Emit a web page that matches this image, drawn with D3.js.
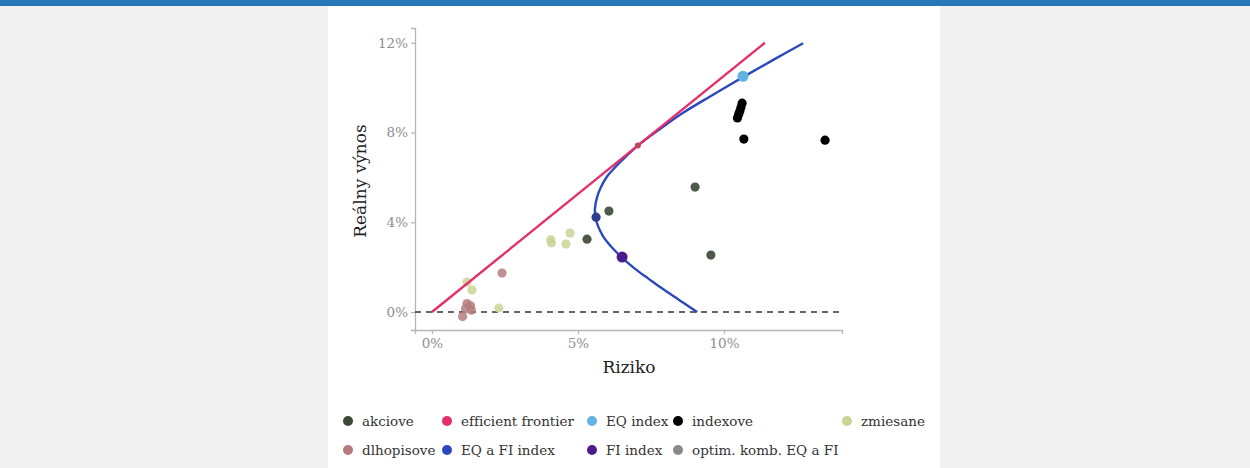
<!DOCTYPE html>
<html><head><meta charset="utf-8">
<script src="https://cdn.jsdelivr.net/npm/d3@7"></script>
<style>
html,body{margin:0;padding:0;background:#f0f0f0;}
svg{display:block;}
text{font-variant-ligatures:none;}
</style></head>
<body>
<svg id="c" width="1250" height="468"></svg>
<script>
// ---- data (risk %, real return %) ----
const akcioveRisk = [9.01, 6.06, 5.31, 9.55];
const akcioveRet  = [5.57, 4.50, 3.25, 2.54];
const zmiesaneRisk = [4.07, 4.09, 4.59, 4.73, 1.37, 1.20, 2.29];
const zmiesaneRet  = [3.22, 3.08, 3.03, 3.52, 0.98, 1.34, 0.18];
const dlhopisoveRisk = [2.40, 1.20, 1.32, 1.35, 1.05, 1.15];
const dlhopisoveRet  = [1.74, 0.38, 0.28, 0.08, -0.20, 0.15];
const indexoveRisk = [10.68, 13.46, 10.62, 10.58, 10.54, 10.50, 10.46];
const indexoveRet  = [7.71, 7.66, 9.31, 9.12, 8.95, 8.80, 8.65];
const eqIndexRisk = [10.65], eqIndexRet = [10.51];
const fiIndexRisk = [6.51], fiIndexRet = [2.45];
const eqfiIndexRisk = [5.62], eqfiIndexRet = [4.23];
const optimRisk = [7.05], optimRet = [7.42];
// two-asset frontier (EQ a FI)
const frontierRisk = [9.08, 8.45, 7.86, 7.40, 7.08, 6.75, 6.49, 6.15, 5.85, 5.68, 5.60, 5.58, 5.65, 5.78, 6.00, 6.27, 6.62, 7.05, 7.80, 8.60, 9.58, 10.65, 11.70, 12.71];
const frontierRet  = [0.00, 0.55, 1.07, 1.50, 1.80, 2.15, 2.45, 2.90, 3.40, 3.85, 4.23, 4.60, 5.10, 5.55, 6.05, 6.45, 6.90, 7.42, 8.15, 8.88, 9.65, 10.47, 11.25, 11.98];
// capital market line (efficient frontier)
const cmlRisk = [0, 11.40];
const cmlRet  = [0, 12.00];
const xTicks = [0, 5, 10];
const yTicks = [0, 4, 8, 12];
const legendRow1 = ["akciove", "efficient frontier", "EQ index", "indexove", "zmiesane"];
const legendRow2 = ["dlhopisove", "EQ a FI index", "FI index", "optim. komb. EQ a FI"];

const colors = {
  "akciove": "#3b4835",
  "efficient frontier": "#e3306b",
  "EQ index": "#62b2e3",
  "indexove": "#000000",
  "zmiesane": "#c8d595",
  "dlhopisove": "#b47c7e",
  "EQ a FI index": "#2a49bf",
  "FI index": "#4b1c8e",
  "optim. komb. EQ a FI": "#8a8a8a"
};

const svg = d3.select("#c");
svg.append("rect").attr("x",0).attr("y",0).attr("width",1250).attr("height",468).attr("fill","#f0f0f0");
svg.append("rect").attr("x",328).attr("y",0).attr("width",612).attr("height",468).attr("fill","#ffffff");
svg.append("rect").attr("x",0).attr("y",0).attr("width",1250).attr("height",6).attr("fill","#2677b7");

const x = d3.scaleLinear().domain([-0.58, 14.04]).range([415, 842]);
const y = d3.scaleLinear().domain([-0.80, 12.66]).range([330, 28]);

const serif = "DejaVu Serif";

// axes
const xAxis = svg.append("g").attr("transform","translate(0,330)")
  .call(d3.axisBottom(x).tickValues(xTicks).tickSize(4).tickPadding(4).tickFormat(d=>d+"%"));
const yAxis = svg.append("g").attr("transform","translate(415,0)")
  .call(d3.axisLeft(y).tickValues(yTicks).tickSize(4).tickPadding(3).tickFormat(d=>d+"%"));
[xAxis,yAxis].forEach(a=>{
  a.select(".domain").attr("stroke","#b5b5b5").attr("stroke-width",1.3);
  a.selectAll(".tick line").attr("stroke","#b5b5b5").attr("stroke-width",1.2);
  a.selectAll(".tick text").attr("fill","#8e8e8e").attr("font-family",serif).attr("font-size","13.5px");
});

// zero dashed line
svg.append("line").attr("x1",415).attr("x2",842).attr("y1",y(0)).attr("y2",y(0))
  .attr("stroke","#333").attr("stroke-width",1.4).attr("stroke-dasharray","6,5");

// axis titles
svg.append("text").attr("x",629).attr("y",373).attr("text-anchor","middle")
  .attr("font-family",serif).attr("font-size","17px").attr("fill","#222").text("Riziko");
svg.append("text").attr("transform","translate(366,181) rotate(-90)").attr("text-anchor","middle")
  .attr("font-family",serif).attr("font-size","17px").attr("fill","#222").text("Reálny výnos");

const pts = (xs,ys)=>xs.map((v,i)=>[v,ys[i]]);
function dots(xs,ys,col,r,op){
  svg.append("g").selectAll("circle").data(pts(xs,ys)).join("circle")
    .attr("cx",d=>x(d[0])).attr("cy",d=>y(d[1])).attr("r",r)
    .attr("fill",col).attr("fill-opacity",op);
}

dots(dlhopisoveRisk, dlhopisoveRet, colors["dlhopisove"], 4.6, 0.85);
dots(zmiesaneRisk, zmiesaneRet, colors["zmiesane"], 4.6, 0.85);
dots(akcioveRisk, akcioveRet, colors["akciove"], 4.6, 0.9);
dots(indexoveRisk, indexoveRet, colors["indexove"], 4.6, 1);

// lines
svg.append("path").datum(pts(frontierRisk,frontierRet))
  .attr("d", d3.line().x(d=>x(d[0])).y(d=>y(d[1])).curve(d3.curveCatmullRom.alpha(0.5)))
  .attr("fill","none").attr("stroke",colors["EQ a FI index"]).attr("stroke-width",2.4);
svg.append("path").datum(pts(cmlRisk,cmlRet))
  .attr("d", d3.line().x(d=>x(d[0])).y(d=>y(d[1])))
  .attr("fill","none").attr("stroke",colors["efficient frontier"]).attr("stroke-width",2.4);

dots(optimRisk, optimRet, "#c0445e", 3, 1);
dots(eqfiIndexRisk, eqfiIndexRet, "#2c3f8f", 4.6, 1);
dots(fiIndexRisk, fiIndexRet, colors["FI index"], 5.5, 1);
dots(eqIndexRisk, eqIndexRet, colors["EQ index"], 5.5, 1);

// legend
const colX = [348, 447, 592, 678, 847];
function legendRow(items, yy){
  items.forEach((t,i)=>{
    svg.append("circle").attr("cx",colX[i]).attr("cy",yy).attr("r",5).attr("fill",colors[t]);
    svg.append("text").attr("x",colX[i]+14).attr("y",yy+4.5)
      .attr("font-family",serif).attr("font-size","13.5px").attr("fill","#333").text(t);
  });
}
legendRow(legendRow1, 421);
legendRow(legendRow2, 450);
</script>
</body></html>
